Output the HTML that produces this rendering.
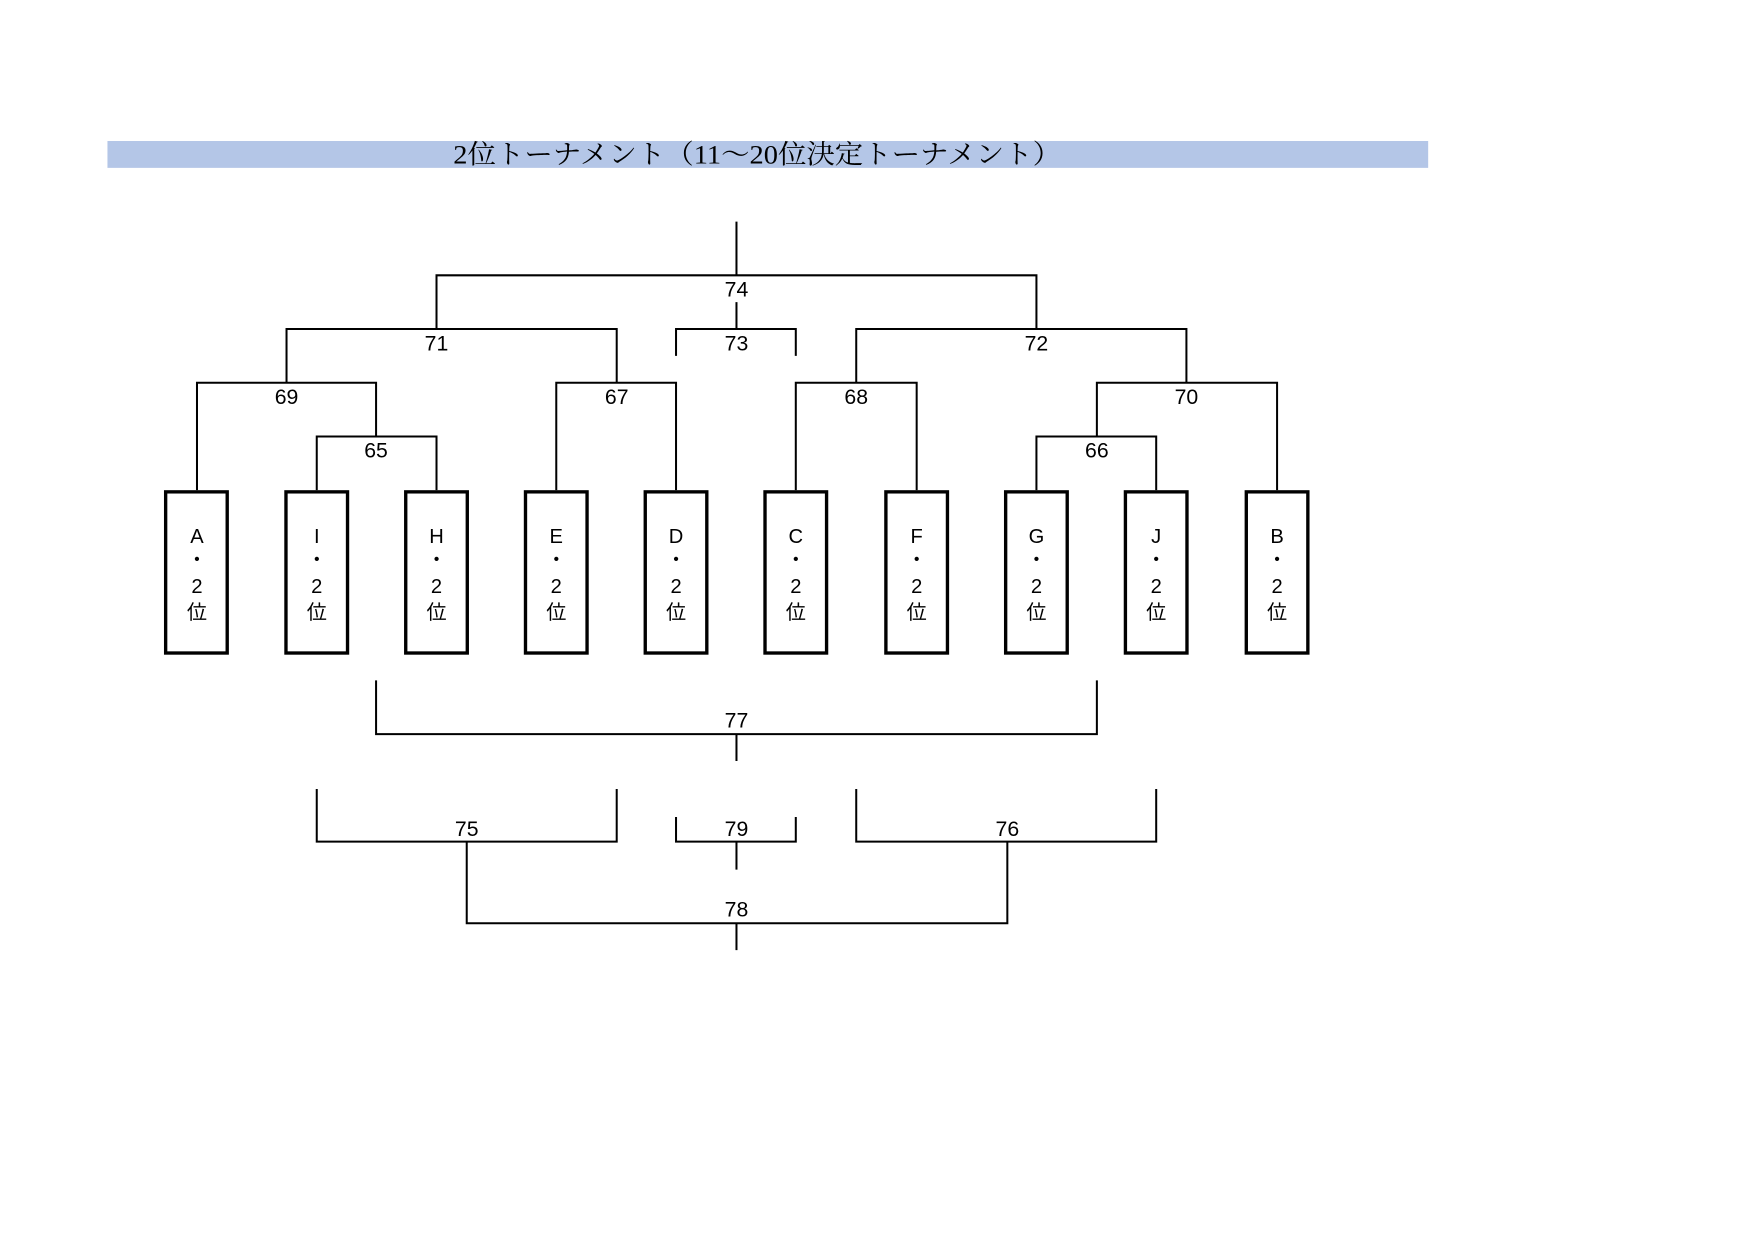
<!DOCTYPE html>
<html><head><meta charset="utf-8"><style>html,body{margin:0;padding:0;background:#fff;}svg{display:block}</style></head>
<body>
<svg width="1755" height="1240" viewBox="0 0 1568 1108" preserveAspectRatio="none" xmlns="http://www.w3.org/2000/svg">
<rect x="96" y="126" width="1180" height="24" fill="#b4c6e7"/>
<text x="405" y="146" font-family="'Liberation Serif','Noto Serif CJK SC',serif" font-size="24" textLength="543" lengthAdjust="spacingAndGlyphs" fill="#000">2位トーナメント（11～20位決定トーナメント）</text>
<g stroke="#000" fill="none" stroke-width="1.8">
<path d="M658 198V246M390 294V246H926V294M658 270V294"/>
<path d="M256 342V294H551V342M604 318V294H711V318M765 342V294H1060V342"/>
<path d="M176 438V342H336V390M497 438V342H604V438M711 438V342H819V438M980 390V342H1141V438"/>
<path d="M283 438V390H390V438M926 438V390H1033V438"/>
<path d="M336 608V656H980V608M658 656V680"/>
<path d="M283 705V752H551V705M604 730V752H711V730M658 752V777M765 705V752H1033V705"/>
<path d="M417 752V825H900V752M658 825V849"/>
</g>
<g font-family="'Liberation Sans',sans-serif" font-size="19" text-anchor="middle" fill="#000">
<text x="658" y="265">74</text>
<text x="390" y="313">71</text><text x="658" y="313">73</text><text x="926" y="313">72</text>
<text x="256" y="361">69</text><text x="551" y="361">67</text><text x="765" y="361">68</text><text x="1060" y="361">70</text>
<text x="336" y="409">65</text><text x="980" y="409">66</text>
<text x="658" y="650">77</text>
<text x="417" y="747">75</text><text x="658" y="747">79</text><text x="900" y="747">76</text>
<text x="658" y="819">78</text>
</g>
<g stroke="#000" stroke-width="3" fill="#fff">
<rect x="148" y="439.5" width="55" height="144"/>
<rect x="255.5" y="439.5" width="55" height="144"/>
<rect x="362.5" y="439.5" width="55" height="144"/>
<rect x="469.5" y="439.5" width="55" height="144"/>
<rect x="576.5" y="439.5" width="55" height="144"/>
<rect x="683.5" y="439.5" width="55" height="144"/>
<rect x="791.5" y="439.5" width="55" height="144"/>
<rect x="898.5" y="439.5" width="55" height="144"/>
<rect x="1005.5" y="439.5" width="55" height="144"/>
<rect x="1113.5" y="439.5" width="55" height="144"/>
</g>
<g font-family="'Liberation Sans','Noto Sans CJK JP',sans-serif" font-size="18" text-anchor="middle" fill="#000">
<g transform="translate(176,0)"><text y="485">A</text><text y="506">・</text><text y="530">2</text><text y="553">位</text></g>
<g transform="translate(283,0)"><text y="485">I</text><text y="506">・</text><text y="530">2</text><text y="553">位</text></g>
<g transform="translate(390,0)"><text y="485">H</text><text y="506">・</text><text y="530">2</text><text y="553">位</text></g>
<g transform="translate(497,0)"><text y="485">E</text><text y="506">・</text><text y="530">2</text><text y="553">位</text></g>
<g transform="translate(604,0)"><text y="485">D</text><text y="506">・</text><text y="530">2</text><text y="553">位</text></g>
<g transform="translate(711,0)"><text y="485">C</text><text y="506">・</text><text y="530">2</text><text y="553">位</text></g>
<g transform="translate(819,0)"><text y="485">F</text><text y="506">・</text><text y="530">2</text><text y="553">位</text></g>
<g transform="translate(926,0)"><text y="485">G</text><text y="506">・</text><text y="530">2</text><text y="553">位</text></g>
<g transform="translate(1033,0)"><text y="485">J</text><text y="506">・</text><text y="530">2</text><text y="553">位</text></g>
<g transform="translate(1141,0)"><text y="485">B</text><text y="506">・</text><text y="530">2</text><text y="553">位</text></g>
</g>
</svg>
</body></html>
